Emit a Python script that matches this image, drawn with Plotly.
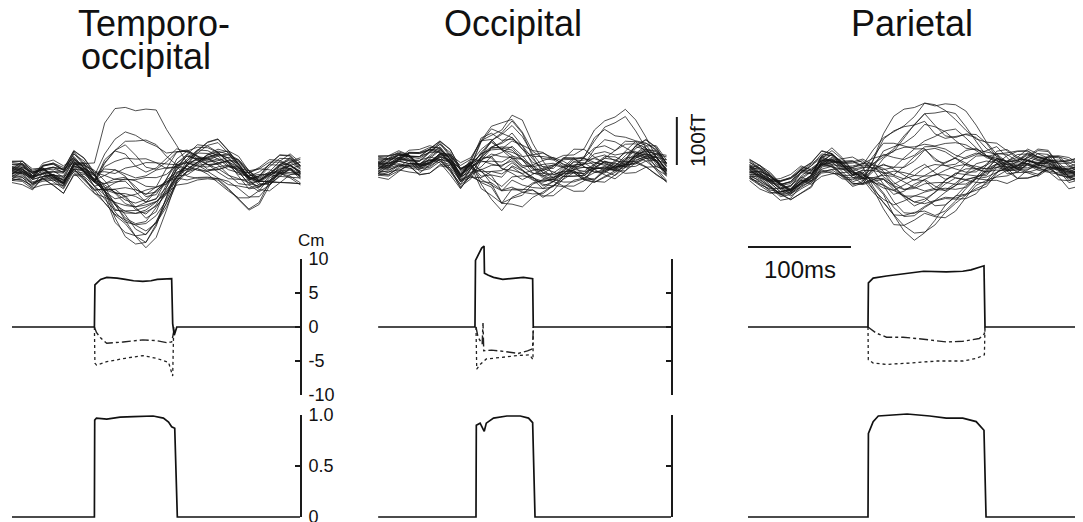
import numpy as np
import plotly.graph_objects as go

W, H = 1083, 522
PAGE_OFF = 8          # page body margin: page px = figure px + 8
PX_PER_MS = 1.03
FONT = "Liberation Sans, Arial, sans-serif"

# ---------------- MEG butterfly data (fT), 10 ms grid ----------------
t1 = list(range(-80, 201, 10))          # Temporo-occipital
t2 = list(range(-95, 186, 10))          # Occipital
t3 = list(range(-115, 206, 10))         # Parietal

base1 = [0, 10, 4, 19, 10, -10, 19, 10, -6, -17, -27, -37, -48, -48, -33, -6, 15, 25, 35, 40, 40, 29, 15, 0, -2, 4, 10, 15, 10]
pos1 = [0, 0, 0, 0, 0, 0, 0, 0, 0.05, 0.6, 0.88, 1.0, 0.98, 0.93, 0.8, 0.5, 0.28, 0.09, 0, 0, 0, 0, 0, 0, 0, 0, 0, 0, 0]
neg1 = [0, 0, 0, 0, 0, 0, 0, 0, 0, 0.2, 0.6, 0.85, 0.95, 1.0, 0.8, 0.55, 0.2, 0, 0, 0, 0, 0, 0, 0, 0, 0, 0, 0, 0]
late1 = [0, 0, 0, 0, 0, 0, 0, 0, 0, 0, 0, 0, 0, 0, 0, 0, 0, 0.3, 0.6, 0.85, 1.0, 0.95, 0.85, 0.75, 0.6, 0.3, 0.05, 0, 0]
gain1_e = [190, 125, 110, 95, 80, 66, 55, 45, 36, 27, 20, 13, 7, 3, 0, -3, -6, -10, -15, -20, -26, -32, -38, -44, -50, -56, -62, -68, -75, -83, -92, -100]
gain1_l = [0, 0, 0, -20, 0, 0, -45, 0, 0, -30, 0, 0, 0, -65, 0, 0, -15, 0, 0, -55, 0, 0, -25, 0, 0, 0, -40, 0, 0, 0, 0, 0]

base2 = [11, 21, 42, 46, 32, 32, 39, 28, 4, 25, 42, 49, 42, 46, 35, 25, 15, 11, 18, 25, 18, 15, 18, 21, 32, 42, 42, 32, 15]
pos2 = [0, 0, 0, 0, 0, 0, 0, 0, 0, 0, 0.45, 0.65, 0.8, 1.0, 0.9, 0.5, 0.3, 0.1, 0, 0, 0, 0, 0, 0, 0, 0, 0, 0, 0]
neg2 = [0, 0, 0, 0, 0, 0, 0, 0, 0, 0, 0.5, 0.8, 1.0, 0.85, 0.7, 0.5, 0.45, 0.35, 0.3, 0.3, 0.25, 0.15, 0.05, 0, 0, 0, 0, 0, 0]
late2 = [0, 0, 0, 0, 0, 0, 0, 0, 0, 0, 0, 0, 0, 0, 0, 0, 0, 0, 0, 0, 0.3, 0.8, 1.0, 0.95, 0.9, 0.5, 0.2, 0, 0]
gain2_e = [70, 62, 55, 48, 42, 36, 30, 25, 20, 15, 10, 6, 3, 0, -3, -6, -10, -15, -20, -26, -32, -38, -45, -52, -60, -68, -76, -84, -92, -100, -108, -117]
gain2_l = [0, 0, 100, 0, 0, 60, 0, 0, 0, 80, 0, 0, 40, 0, 0, 0, 30, 0, 0, 65, 0, 0, 0, 20, 0, 0, 50, 0, 0, 0, 0, 0]

base3 = [4, 1, -3, -13, -20, -10, -6, 25, 35, 25, 11, 4, -3, -10, -20, -24, -27, -27, -27, -20, -13, -6, 4, 15, 32, 25, 18, 25, 28, 35, 25, 11, 8]
pos3 = [0, 0, 0, 0, 0, 0, 0, 0, 0, 0, 0, 0, 0.2, 0.45, 0.65, 0.8, 0.9, 1.0, 0.93, 0.85, 0.75, 0.62, 0.47, 0.3, 0.12, 0.02, 0, 0, 0, 0, 0, 0, 0]
neg3 = [0, 0, 0, 0, 0, 0, 0, 0, 0, 0, 0, 0, 0.3, 0.55, 0.8, 0.95, 1.0, 0.9, 0.78, 0.65, 0.58, 0.5, 0.38, 0.3, 0.25, 0.1, 0, 0, 0, 0, 0, 0, 0]
late3 = [0] * 33
gain3_e = [194, 178, 162, 148, 135, 122, 110, 98, 88, 78, 68, 58, 50, 42, 34, 27, 20, 14, 8, 3, 0, -4, -9, -15, -22, -30, -38, -48, -58, -70, -84, -100]
gain3_l = [0] * 32

# per-channel jitter read as band width (fT)
wob = [
    [8, 14, 6, -4, -12, -6, 4, 10, 16, 8, -2, -10, -4, 6, 12, 4, -6, -14, -8, 2, 10, 14, 6, -4, -10, -2, 8, 12, 2, -8, -12, -4, 6],
    [-10, -4, 6, 12, 4, -6, -12, -8, 2, 10, 14, 4, -6, -12, -6, 4, 12, 8, -2, -10, -14, -6, 4, 12, 8, -4, -12, -8, 2, 10, 6, -4, -10],
    [4, -6, -14, -8, 4, 12, 6, -4, -10, -14, -4, 8, 14, 6, -4, -12, -6, 6, 14, 8, -2, -10, -14, -4, 6, 14, 8, -4, -12, -6, 4, 12, 4],
    [-14, -8, 2, 8, 14, 10, -2, -12, -6, 4, 10, 4, -8, -14, -2, 10, 6, -4, -10, -4, 8, 12, 2, -8, -14, -6, 6, 14, 10, -2, -10, -6, 2],
    [12, 4, -8, -14, -6, 6, 14, 4, -8, -4, 6, 14, 8, -6, -12, -4, 8, 14, 4, -8, -6, 6, 12, 8, -6, -12, -4, 4, 12, 6, -6, -14, -8],
    [-2, 10, 14, 4, -8, -14, -4, 8, 12, 2, -12, -8, 4, 12, 10, -2, -14, -10, 6, 12, 4, -8, -10, 2, 12, 6, -6, -14, -4, 8, 14, 4, -6],
]
wsc = [1.3, -1.4, 1.0, -0.9, 1.5, -1.1, 0.7, -1.6, 1.2, -1.0, 1.4, -1.3, 0.8, -1.5, 1.1, -0.7,
       1.6, -1.1, 1.0, -1.4, 1.3, -0.8, 1.5, -1.2, 0.7, -1.6, 1.1, -1.0, 1.4, -1.1, 0.8, -1.4]
off = [5, -8, 13, -15, 3, 10, -5, 17, -12, 8, -3, 15, -10, 0, 6, -17, 11, -6, 4, -11, 14, -4, 9, -14, 1, 16, -9, 5, -16, 8, -1, 12]

# ---------------- Cm data ----------------
cm1_t_solid = [-80, 0, 0.5, 2, 6, 12, 22, 30, 38, 47, 55, 61, 68, 75, 76, 77.5, 80, 200]
cm1_solid = [0, 0, 6.2, 6.4, 7.0, 7.3, 7.2, 7.0, 6.8, 6.7, 6.8, 7.0, 7.1, 7.1, 0.5, -1.2, 0, 0]
cm1_t_dd = [0, 2, 6, 12, 28, 47, 60, 70, 75, 77, 78]
cm1_dd = [0, -0.8, -1.6, -2.4, -2.2, -1.9, -2.0, -2.3, -2.2, -1.0, 0]
cm1_t_dot = [0, 0.5, 2, 12, 30, 47, 60, 72, 76, 77]
cm1_dot = [0, -5.3, -5.6, -5.1, -4.6, -4.2, -4.6, -5.2, -7.2, 0]

cm2_t_solid = [-95, -1, -0.5, 1, 5.5, 7.8, 8.2, 12, 17, 26, 33, 40, 46, 55, 55.6, 190]
cm2_solid = [0, 0, 9.8, 10.3, 11.6, 11.9, 7.9, 7.6, 7.3, 7.0, 7.1, 7.2, 7.3, 7.1, 0, 0]
cm2_t_dd = [0, 2, 6, 6.8, 7.5, 15, 28, 41, 50, 55, 55.6]
cm2_dd = [0, -1.5, -2.5, 0.6, -3.5, -3.4, -3.6, -3.9, -3.5, -3.2, 0]
cm2_t_dot = [0, 0.7, 4, 10, 23, 40, 52, 55.3, 55.6]
cm2_dot = [0, -6.2, -5.5, -4.7, -4.5, -4.2, -4.1, -4.8, 0]

cm3_t_solid = [-116.5, 0, 0.4, 5, 18, 34, 54, 76, 92, 100, 106, 112.6, 113.6, 212]
cm3_solid = [0, 0, 6.5, 7.2, 7.5, 7.8, 8.2, 8.1, 8.2, 8.4, 8.7, 9.0, 0, 0]
cm3_t_dd = [0, 8, 18, 34, 54, 76, 92, 108, 113, 113.6]
cm3_dd = [0, -0.9, -1.5, -1.5, -1.8, -2.2, -2.1, -1.7, -1.0, 0]
cm3_t_dot = [0, 0.3, 5, 18, 41, 67, 92.5, 105.5, 113, 113.6]
cm3_dot = [0, -4.8, -5.3, -5.5, -5.3, -5.0, -5.0, -4.6, -4.1, 0]

# ---------------- fraction data ----------------
fr1_t = [-80, 0, 0.3, 2, 12, 25, 38, 57, 67, 72, 75, 77, 78, 80.5, 200]
fr1 = [0, 0, 0.95, 0.97, 0.96, 0.98, 0.985, 0.99, 0.97, 0.93, 0.885, 0.87, 0.87, 0, 0]
fr2_t = [-95, 0, 0.3, 4, 7, 8, 10, 17, 30, 43, 51, 55, 57.3, 190]
fr2 = [0, 0, 0.9, 0.92, 0.86, 0.84, 0.92, 0.97, 0.99, 0.99, 0.97, 0.925, 0, 0]
fr3_t = [-116.5, 0, 0.4, 5, 10, 28, 38, 60, 76, 92, 105, 112.6, 114.6, 212]
fr3 = [0, 0, 0.82, 0.935, 0.99, 1.0, 1.01, 0.99, 0.97, 0.97, 0.935, 0.85, 0, 0]

title_lines = ["Temporo-", "occipital", "Occipital", "Parietal"]
cm_ticks = [10, 5, 0, -5, -10]
cm_ticktext = ["10", "5", "0", "-5", "-10"]
fr_ticks = [1.0, 0.5, 0]
fr_ticktext = ["1.0", "0.5", "0"]
scale_ft = 100   # fT
scale_ms = 100   # ms

# ---------------- layout geometry (page pixels) ----------------
def px2p(px):
    return min(max((px - PAGE_OFF) / W, 0), 1)

def py2p(py):
    return 1 - (py - PAGE_OFF) / H

def xaxis(px0, px1, zero_px):
    return dict(domain=[px2p(px0), px2p(px1)],
                range=[(px0 - zero_px) / PX_PER_MS, (px1 - zero_px) / PX_PER_MS],
                visible=False, fixedrange=True, automargin=False)

def yaxis(py_top, py_bot, zero_py, px_per_unit):
    return dict(domain=[py2p(py_bot), py2p(py_top)],
                range=[(zero_py - py_bot) / px_per_unit, (zero_py - py_top) / px_per_unit],
                visible=False, fixedrange=True, automargin=False)

zeros_px = [94.4, 476, 868]
fig = go.Figure()
lay = {}
lay["xaxis"] = xaxis(8, 304, zeros_px[0])
lay["xaxis2"] = xaxis(374, 684, zeros_px[1])
lay["xaxis3"] = xaxis(745, 1083, zeros_px[2])
for k in ["yaxis", "yaxis2", "yaxis3"]:
    lay[k] = yaxis(85, 268, 177, 0.48)
lay["xaxis4"] = xaxis(8, 300, zeros_px[0])
lay["xaxis5"] = xaxis(374, 671, zeros_px[1])
lay["xaxis6"] = xaxis(745, 1083, zeros_px[2])
for k in ["yaxis4", "yaxis5", "yaxis6"]:
    lay[k] = yaxis(240, 407, 327, 6.8)
lay["xaxis7"] = xaxis(8, 300, zeros_px[0])
lay["xaxis8"] = xaxis(374, 671, zeros_px[1])
lay["xaxis9"] = xaxis(745, 1083, zeros_px[2])
for k in ["yaxis7", "yaxis8", "yaxis9"]:
    lay[k] = yaxis(405, 522, 517, 102)
for i in range(1, 10):
    xk = "xaxis" if i == 1 else f"xaxis{i}"
    lay[xk]["anchor"] = "y" if i == 1 else f"y{i}"
    yk = "yaxis" if i == 1 else f"yaxis{i}"
    lay[yk]["anchor"] = "x" if i == 1 else f"x{i}"

def deco_axis(py_top, py_bot, rng, tickvals, ticktext, anchor, labels):
    return dict(domain=[py2p(py_bot), py2p(py_top)], range=rng, anchor=anchor, side="right",
                showline=True, linecolor="#1a1a1a", linewidth=2, ticks="inside",
                ticklen=5, tickwidth=2, tickcolor="#1a1a1a", tickvals=tickvals,
                ticktext=ticktext, showticklabels=labels, showgrid=False, zeroline=False,
                tickfont=dict(family=FONT, size=18, color="#111"), fixedrange=True,
                ticklabelstandoff=3, automargin=False)

lay["yaxis10"] = deco_axis(259, 395, [-10, 10], cm_ticks, cm_ticktext, "x4", True)
lay["yaxis11"] = deco_axis(259, 395, [-10, 10], cm_ticks, cm_ticktext, "x5", False)
lay["yaxis12"] = deco_axis(415, 517, [0, 1], fr_ticks, fr_ticktext, "x7", True)
lay["yaxis13"] = deco_axis(415, 517, [0, 1], fr_ticks, fr_ticktext, "x8", False)

# ---------------- MEG traces ----------------
meg = [(t1, base1, pos1, neg1, late1, gain1_e, gain1_l, "x", "y"),
       (t2, base2, pos2, neg2, late2, gain2_e, gain2_l, "x2", "y2"),
       (t3, base3, pos3, neg3, late3, gain3_e, gain3_l, "x3", "y3")]
for tt, base, pos, neg, late, ge, gl, xa, ya in meg:
    n = len(tt)
    b = np.array(base, float)
    for i in range(len(ge)):
        shape = np.array(pos if ge[i] > 0 else neg, float)
        y = (b + ge[i] * shape + gl[i] * np.array(late, float)
             + wsc[i] * np.array(wob[i % 6][:n], float) + off[i])
        fig.add_trace(go.Scatter(x=tt, y=y, mode="lines", xaxis=xa, yaxis=ya,
                                 line=dict(color="rgba(20,20,20,0.75)", width=1.0),
                                 showlegend=False, hoverinfo="skip"))

# scale bars
fig.add_trace(go.Scatter(x=[195, 195], y=[25, 25 + scale_ft], mode="lines", xaxis="x2", yaxis="y2",
                         line=dict(color="#1a1a1a", width=2), showlegend=False))
fig.add_trace(go.Scatter(x=[-116.5, -116.5 + scale_ms], y=[-146, -146], mode="lines", xaxis="x3", yaxis="y3",
                         line=dict(color="#1a1a1a", width=2), showlegend=False))

# ---------------- Cm traces ----------------
cm = [(cm1_t_solid, cm1_solid, cm1_t_dd, cm1_dd, cm1_t_dot, cm1_dot, "x4", "y4"),
      (cm2_t_solid, cm2_solid, cm2_t_dd, cm2_dd, cm2_t_dot, cm2_dot, "x5", "y5"),
      (cm3_t_solid, cm3_solid, cm3_t_dd, cm3_dd, cm3_t_dot, cm3_dot, "x6", "y6")]
for ts, s, td, d, to, o, xa, ya in cm:
    fig.add_trace(go.Scatter(x=to, y=o, mode="lines", xaxis=xa, yaxis=ya,
                             line=dict(color="#222", width=1.3, dash="dot"), showlegend=False))
    fig.add_trace(go.Scatter(x=td, y=d, mode="lines", xaxis=xa, yaxis=ya,
                             line=dict(color="#222", width=1.4, dash="dashdot"), showlegend=False))
    fig.add_trace(go.Scatter(x=ts, y=s, mode="lines", xaxis=xa, yaxis=ya,
                             line=dict(color="#111", width=1.7), showlegend=False))

# ---------------- fraction traces ----------------
for tt, f, xa, ya in [(fr1_t, fr1, "x7", "y7"), (fr2_t, fr2, "x8", "y8"), (fr3_t, fr3, "x9", "y9")]:
    fig.add_trace(go.Scatter(x=tt, y=f, mode="lines", xaxis=xa, yaxis=ya,
                             line=dict(color="#111", width=1.7), showlegend=False))

# decoration-axis carriers
for xa, ya in [("x4", "y10"), ("x5", "y11"), ("x7", "y12"), ("x8", "y13")]:
    fig.add_trace(go.Scatter(x=[None], y=[None], mode="lines", xaxis=xa, yaxis=ya, showlegend=False))

# ---------------- annotations ----------------
TS = 36
ann = []
# (text, left px, baseline py) in page pixels
for txt, lx, base_py in zip(title_lines, [76, 79, 442, 849], [37, 70, 37, 37]):
    ann.append(dict(text=txt, x=px2p(lx), y=py2p(base_py - TS), xref="paper", yref="paper",
                    xanchor="left", yanchor="top", showarrow=False,
                    font=dict(family=FONT, size=TS, color="#111")))
ann.append(dict(text="100fT", x=px2p(697), y=py2p(140), xref="paper", yref="paper", textangle=-90,
                xanchor="center", yanchor="middle", showarrow=False,
                font=dict(family=FONT, size=21, color="#111")))
ann.append(dict(text="100ms", x=px2p(800), y=py2p(269), xref="paper", yref="paper",
                xanchor="center", yanchor="middle", showarrow=False,
                font=dict(family=FONT, size=24, color="#111")))
ann.append(dict(text="Cm", x=px2p(311), y=py2p(240), xref="paper", yref="paper",
                xanchor="center", yanchor="middle", showarrow=False,
                font=dict(family=FONT, size=17, color="#111")))

fig.update_layout(template="none", width=W, height=H, margin=dict(l=0, r=0, t=0, b=0, autoexpand=False),
                  paper_bgcolor="white", plot_bgcolor="rgba(0,0,0,0)",
                  showlegend=False, annotations=ann, **lay)
fig.write_html("out.html")
